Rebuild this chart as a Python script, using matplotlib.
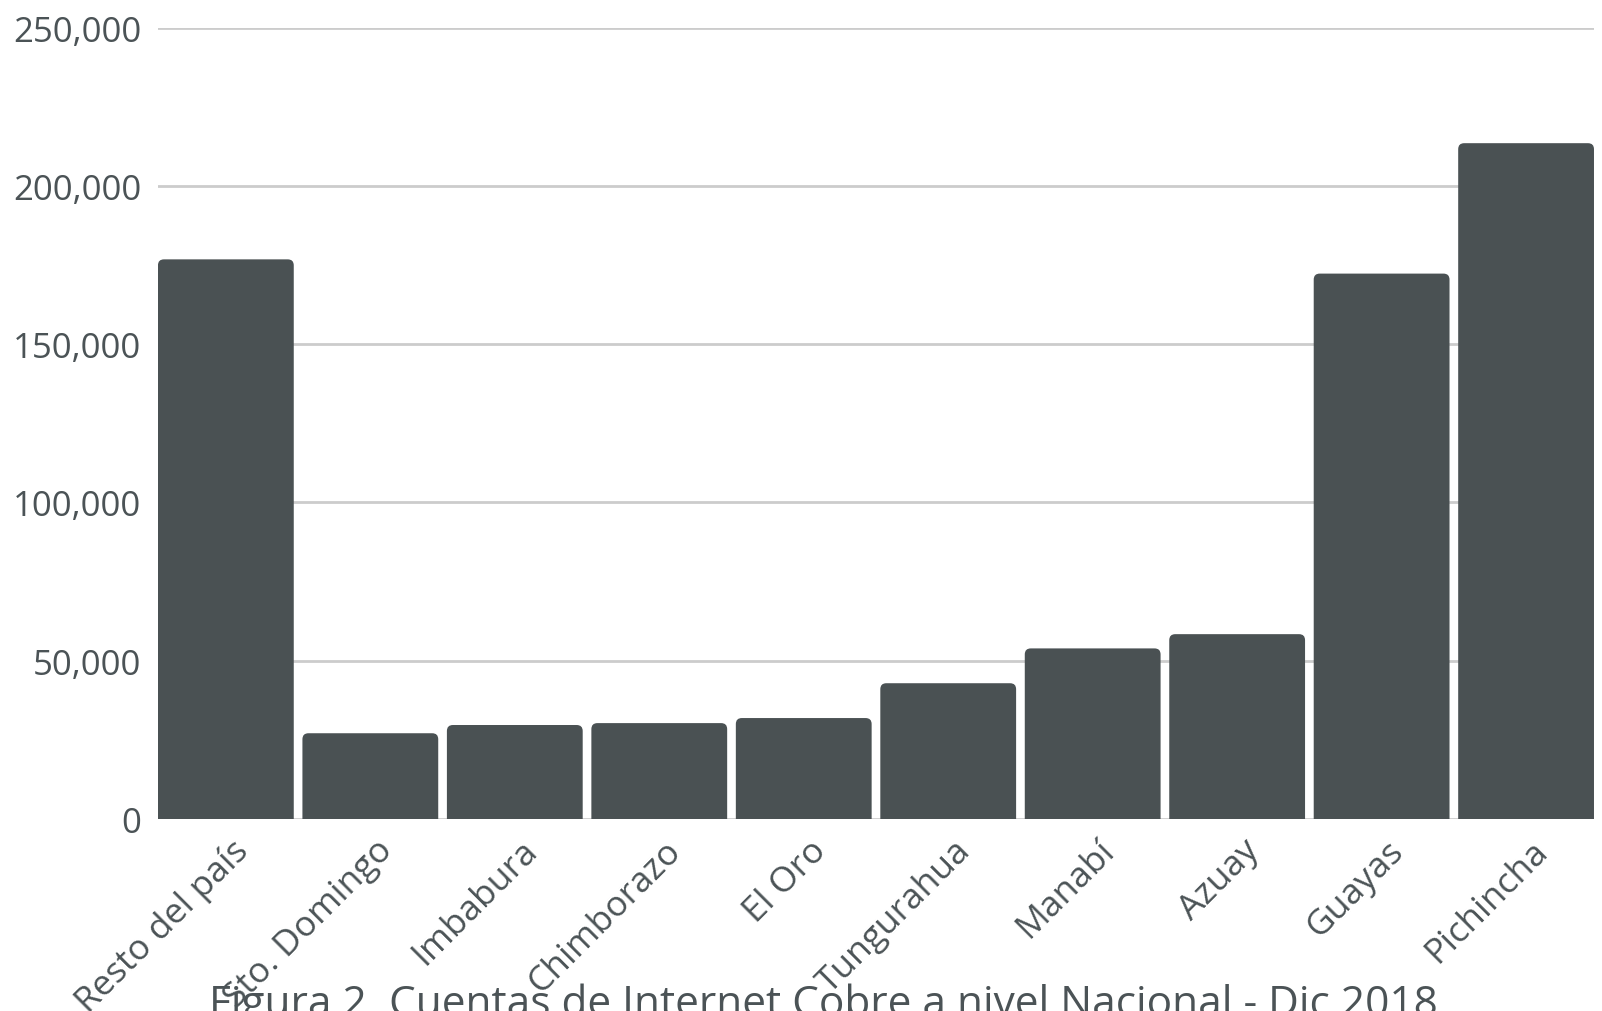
import matplotlib
matplotlib.use("Agg")
import matplotlib.pyplot as plt
import matplotlib.transforms as mtransforms
from matplotlib.patches import FancyBboxPatch
from matplotlib.ticker import FuncFormatter

# Cuentas de Internet cobre por provincia (dic 2018)
provincias = ["Resto del país", "Sto. Domingo", "Imbabura", "Chimborazo", "El Oro",
              "Tungurahua", "Manabí", "Azuay", "Guayas", "Pichincha"]
cuentas = [176800, 27100, 29700, 30300, 31900, 42900, 53900, 58400, 172300, 213500]
y_ticks = [0, 50000, 100000, 150000, 200000, 250000]
caption = "Figura 2. Cuentas de Internet Cobre a nivel Nacional - Dic 2018"

bar_color = "#4a5153"
text_color = "#4b5356"
grid_color = "#cccccc"

plt.rcParams["font.family"] = ["Open Sans", "DejaVu Sans"]

fig = plt.figure(figsize=(16.02, 10.12), dpi=100, facecolor="white")
ax = fig.add_axes([0.0986, 0.1897, 0.8964, 0.782])

width = 0.94
bars = ax.bar(range(len(provincias)), cuentas, width=width, color=bar_color, zorder=3)
ax.set_xlim(-width / 2, len(provincias) - 1 + width / 2)
ax.set_ylim(0, 250000)

# swap the plain bars for ones with rounded top corners
fig.canvas.draw()
bbox = ax.get_window_extent()
x_per_px = (ax.get_xlim()[1] - ax.get_xlim()[0]) / bbox.width
y_per_px = (ax.get_ylim()[1] - ax.get_ylim()[0]) / bbox.height
r_px = 6
for b in bars:
    b.set_visible(False)
    x, w, h = b.get_x(), b.get_width(), b.get_height()
    ry = r_px * y_per_px
    patch = FancyBboxPatch((x, -ry), w, h + ry,
                           boxstyle=f"round,pad=0,rounding_size={r_px * x_per_px}",
                           mutation_aspect=y_per_px / x_per_px,
                           facecolor=bar_color, edgecolor="none", zorder=3)
    ax.add_patch(patch)

ax.set_yticks(y_ticks)
ax.yaxis.set_major_formatter(FuncFormatter(lambda v, p: f"{int(v):,}"))
ax.grid(axis="y", color=grid_color, linewidth=2, zorder=0)
ax.grid(axis="x", visible=False)
for s in ax.spines.values():
    s.set_visible(False)
ax.tick_params(axis="y", length=0, pad=12, labelsize=25, labelcolor=text_color)
ax.tick_params(axis="x", length=0, pad=10, labelsize=25.5, labelcolor=text_color)

ax.set_xticks(range(len(provincias)))
ax.set_xticklabels(provincias, rotation=45, ha="right", rotation_mode="anchor")
shift = mtransforms.ScaledTranslation(5 / 100, 0, fig.dpi_scale_trans)
for lbl in ax.get_xticklabels():
    lbl.set_transform(lbl.get_transform() + shift)

# caption sits low, like the original figure where it is partly cut off
fig.text(0.514, 1 - 984 / 1012, caption, ha="center", va="top", fontsize=30.5,
         color=text_color)

fig.savefig("out.png", dpi=100, facecolor="white")
